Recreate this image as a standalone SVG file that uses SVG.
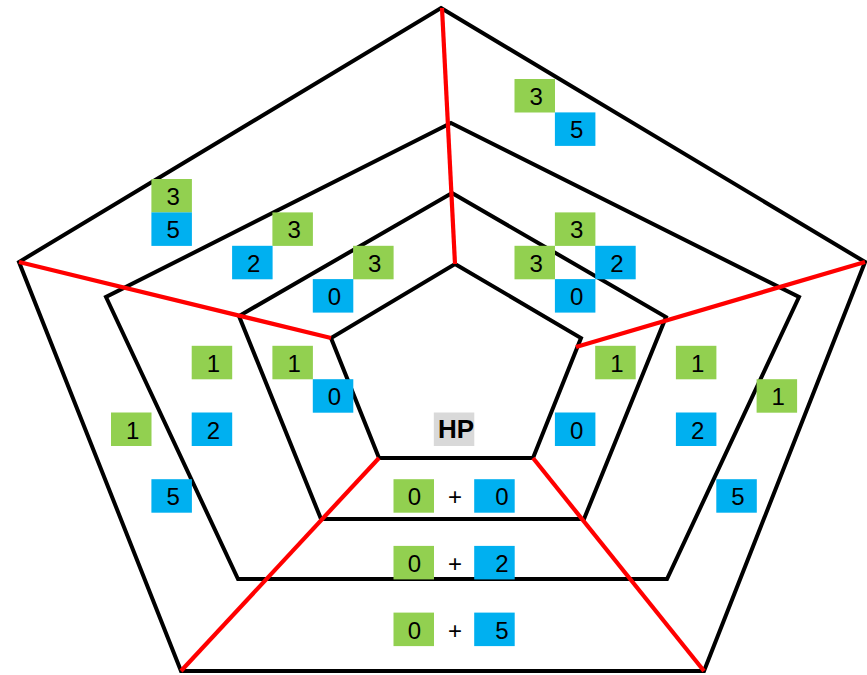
<svg xmlns="http://www.w3.org/2000/svg" width="867" height="675" viewBox="0 0 867 675">
  <style>
    .ring { fill: none; stroke: #000; stroke-width: 4; stroke-linejoin: miter; }
    .spoke { stroke: #ff0000; stroke-width: 4.2; stroke-linecap: butt; }
    .g { fill: #92d050; }
    .b { fill: #00b0f0; }
    .h { fill: #d9d9d9; }
    .t { font-family: "Liberation Sans", Arial, sans-serif; font-size: 24px; fill: #000; text-anchor: middle; }
    .hp { font-family: "Liberation Sans", Arial, sans-serif; font-size: 26px; font-weight: bold; fill: #000; text-anchor: middle; }
  </style>
  <defs>
    <rect id="cell" width="40.5" height="33.5"/>
  </defs>
  <rect width="867" height="675" fill="#fff"/>

  <!-- nested pentagon rings -->
  <g id="rings">
    <polygon id="ring-outer" class="ring" points="441,8 865,262 704,671 181,671 19,262"/>
    <polygon id="ring-2" class="ring" points="451,123 799,297 667,579 238,579 106,297"/>
    <polygon id="ring-3" class="ring" points="452,193 666,317 584,519 321,519 239,316"/>
    <polygon id="ring-inner" class="ring" points="455,264 581,338 533,458 379,458 331,338"/>
  </g>

  <!-- red sector dividers -->
  <g id="connectors">
    <line class="spoke" x1="442" y1="8" x2="455" y2="264"/>
    <line class="spoke" x1="19" y1="262" x2="331" y2="338"/>
    <line class="spoke" x1="576" y1="347" x2="865" y2="262"/>
    <line class="spoke" x1="379" y1="458" x2="181" y2="671"/>
    <line class="spoke" x1="533" y1="458" x2="704" y2="671"/>
  </g>

  <!-- top-right sector -->
  <g id="tr-outer">
    <use href="#cell" class="g" x="514.5" y="79"/><text class="t" x="536.2" y="105">3</text>
    <use href="#cell" class="b" x="554.9" y="112.4"/><text class="t" x="576.6" y="138.4">5</text>
  </g>
  <g id="tr-inner">
    <use href="#cell" class="g" x="554.9" y="212.4"/><text class="t" x="576.6" y="238.4">3</text>
    <use href="#cell" class="g" x="514.5" y="245.8"/><text class="t" x="536.2" y="271.8">3</text>
    <use href="#cell" class="b" x="595.2" y="245.8"/><text class="t" x="616.9" y="271.8">2</text>
    <use href="#cell" class="b" x="554.9" y="279.1"/><text class="t" x="576.6" y="305.1">0</text>
  </g>

  <!-- top-left sector -->
  <g id="tl-outer">
    <use href="#cell" class="g" x="151.4" y="179"/><text class="t" x="173.1" y="205">3</text>
    <use href="#cell" class="b" x="151.4" y="212.4"/><text class="t" x="173.1" y="238.4">5</text>
  </g>
  <g id="tl-mid">
    <use href="#cell" class="g" x="272.4" y="212.4"/><text class="t" x="294.1" y="238.4">3</text>
    <use href="#cell" class="b" x="232.1" y="245.8"/><text class="t" x="253.8" y="271.8">2</text>
  </g>
  <g id="tl-inner">
    <use href="#cell" class="g" x="353.1" y="245.8"/><text class="t" x="374.8" y="271.8">3</text>
    <use href="#cell" class="b" x="312.8" y="279.1"/><text class="t" x="334.5" y="305.1">0</text>
  </g>

  <!-- left sector -->
  <g id="l-inner">
    <use href="#cell" class="g" x="272.4" y="345.8"/><text class="t" x="294.1" y="371.8">1</text>
    <use href="#cell" class="b" x="312.8" y="379.2"/><text class="t" x="334.5" y="405.2">0</text>
  </g>
  <g id="l-mid">
    <use href="#cell" class="g" x="191.7" y="345.8"/><text class="t" x="213.4" y="371.8">1</text>
    <use href="#cell" class="b" x="191.7" y="412.5"/><text class="t" x="213.4" y="438.5">2</text>
  </g>
  <g id="l-outer">
    <use href="#cell" class="g" x="111" y="412.5"/><text class="t" x="132.7" y="438.5">1</text>
    <use href="#cell" class="b" x="151.4" y="479.2"/><text class="t" x="173.1" y="505.2">5</text>
  </g>

  <!-- right sector -->
  <g id="r-inner">
    <use href="#cell" class="g" x="595.2" y="345.8"/><text class="t" x="616.9" y="371.8">1</text>
    <use href="#cell" class="b" x="554.9" y="412.5"/><text class="t" x="576.6" y="438.5">0</text>
  </g>
  <g id="r-mid">
    <use href="#cell" class="g" x="675.9" y="345.8"/><text class="t" x="697.6" y="371.8">1</text>
    <use href="#cell" class="b" x="675.9" y="412.5"/><text class="t" x="697.6" y="438.5">2</text>
  </g>
  <g id="r-outer">
    <use href="#cell" class="g" x="756.6" y="379.2"/><text class="t" x="778.3" y="405.2">1</text>
    <use href="#cell" class="b" x="716.3" y="479.2"/><text class="t" x="738" y="505.2">5</text>
  </g>

  <!-- centre label -->
  <g id="hp">
    <use href="#cell" class="h" x="433.8" y="412.5"/><text class="hp" x="456" y="437.5">HP</text>
  </g>

  <!-- bottom sector -->
  <g id="b-inner">
    <use href="#cell" class="g" x="393.5" y="479.2"/><text class="t" x="414.5" y="505.2">0</text>
    <text class="t" x="455" y="505.2">+</text>
    <use href="#cell" class="b" x="474.2" y="479.2"/><text class="t" x="502" y="505.2">0</text>
  </g>
  <g id="b-mid">
    <use href="#cell" class="g" x="393.5" y="545.9"/><text class="t" x="414.5" y="571.9">0</text>
    <text class="t" x="455" y="571.9">+</text>
    <use href="#cell" class="b" x="474.2" y="545.9"/><text class="t" x="502" y="571.9">2</text>
  </g>
  <g id="b-outer">
    <use href="#cell" class="g" x="393.5" y="612.6"/><text class="t" x="414.5" y="638.6">0</text>
    <text class="t" x="455" y="638.6">+</text>
    <use href="#cell" class="b" x="474.2" y="612.6"/><text class="t" x="502" y="638.6">5</text>
  </g>
</svg>
